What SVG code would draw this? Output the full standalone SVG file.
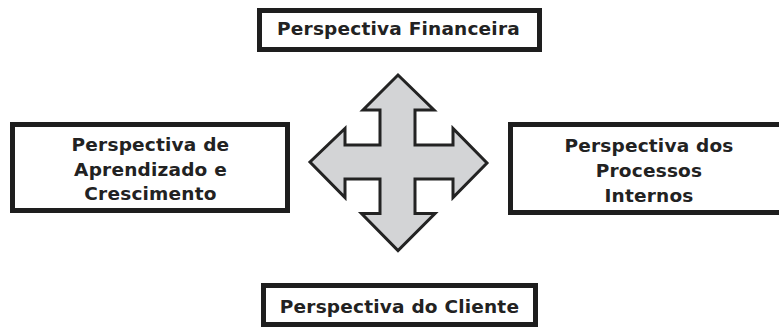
<svg xmlns="http://www.w3.org/2000/svg" width="779" height="327" viewBox="0 0 779 327">
<style>
.box{fill:#ffffff;stroke:#1e1e1e;stroke-width:5}
.lbl{font-family:"DejaVu Sans",Verdana,sans-serif;font-weight:bold;font-size:18.5px;letter-spacing:0.2px;fill:#222222;text-anchor:middle}
.cross{fill:#d3d4d6;stroke:#232323;stroke-width:3;stroke-linejoin:miter}
</style>
<rect width="779" height="327" fill="#ffffff"/>
<g id="connectors">
<path class="cross" d="M398,75 L434,110 L415,110 L415,145 L453,145 L453,128.5 L487,163 L453,197.5 L453,179 L415,179 L415,213.5 L435,213.5 L398,250.5 L361.5,213.5 L380,213.5 L380,179 L345,179 L345,197.5 L310,162 L345,128.5 L345,145 L380,145 L380,110 L363,110 Z"/>
</g>
<g id="node-financeira">
<rect class="box" x="259.5" y="10.5" width="280" height="39"/>
<text class="lbl" x="398.5" y="35">Perspectiva Financeira</text>
</g>
<g id="node-aprendizado">
<rect class="box" x="12.5" y="124.5" width="275" height="86"/>
<text class="lbl" x="150.5" y="151">Perspectiva de</text>
<text class="lbl" x="150.5" y="175.5">Aprendizado e</text>
<text class="lbl" x="150.5" y="200">Crescimento</text>
</g>
<g id="node-processos">
<rect class="box" x="510.5" y="124.5" width="280" height="88"/>
<text class="lbl" x="649" y="152">Perspectiva dos</text>
<text class="lbl" x="649" y="176.5">Processos</text>
<text class="lbl" x="649" y="201.5">Internos</text>
</g>
<g id="node-cliente">
<rect class="box" x="263.5" y="285.5" width="272" height="39"/>
<text class="lbl" x="399.5" y="313">Perspectiva do Cliente</text>
</g>
</svg>
